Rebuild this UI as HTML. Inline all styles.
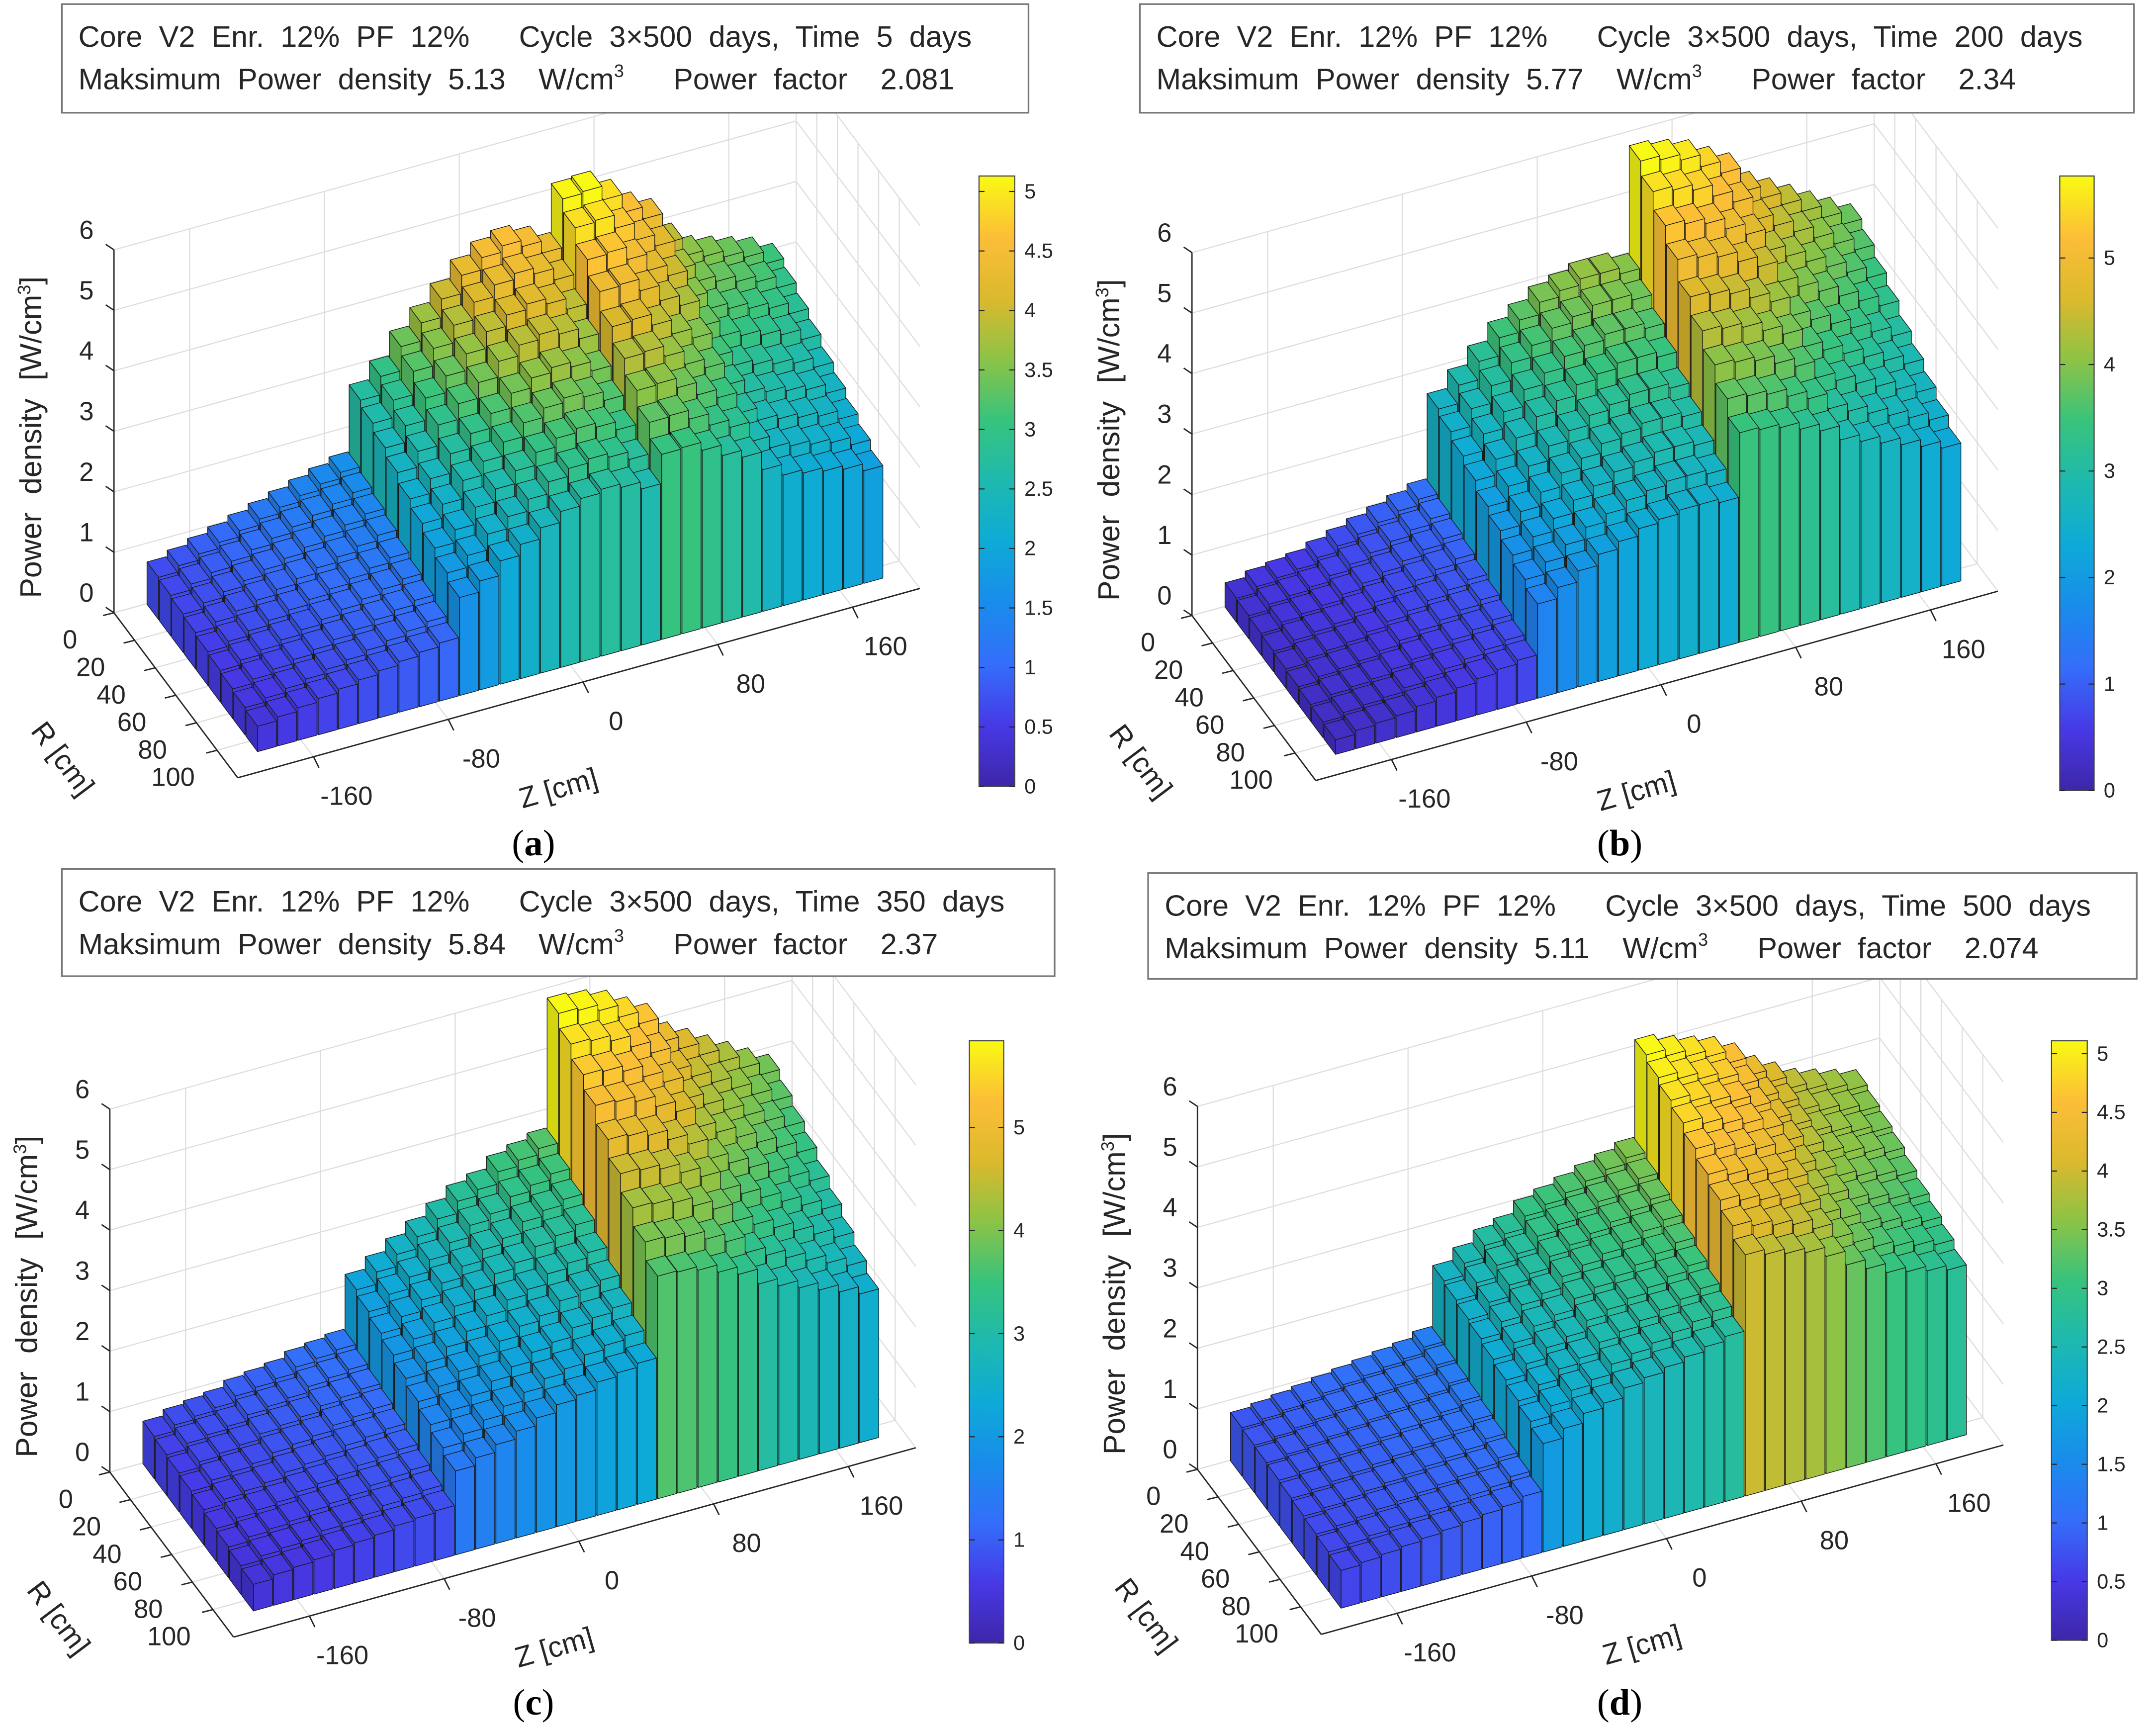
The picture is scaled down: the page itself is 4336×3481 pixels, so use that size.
<!DOCTYPE html>
<html><head><meta charset="utf-8"><style>
html,body{margin:0;padding:0;background:#fff;}
svg{display:block;}
text{font-family:"Liberation Sans",Arial,sans-serif;fill:#262626;}
.pre{white-space:pre;}
</style></head><body>
<svg id="root" xmlns="http://www.w3.org/2000/svg" width="4336" height="3481" viewBox="0 0 1568 1259" preserveAspectRatio="none">
<defs>
<linearGradient id="parula" x1="0" y1="1" x2="0" y2="0">
<stop offset="0" stop-color="rgb(62,38,168)"/><stop offset="0.1" stop-color="rgb(71,57,230)"/>
<stop offset="0.2" stop-color="rgb(52,110,250)"/><stop offset="0.3" stop-color="rgb(25,140,235)"/>
<stop offset="0.4" stop-color="rgb(14,170,215)"/><stop offset="0.5" stop-color="rgb(30,185,175)"/>
<stop offset="0.6" stop-color="rgb(55,195,125)"/><stop offset="0.7" stop-color="rgb(140,195,70)"/>
<stop offset="0.8" stop-color="rgb(220,185,45)"/><stop offset="0.9" stop-color="rgb(252,190,55)"/>
<stop offset="1" stop-color="rgb(249,250,20)"/>
</linearGradient>
</defs>
</svg>
<script>
// Shared categories
const zCenters=[-180,-168,-156,-144,-132,-120,-108,-96,-84,-72,-60,-48,-36,-24,-12,0,12,24,36,48,60,72,84,96,108,120,132,144,156,168,180];
const rCenters=[6,18,30,42,54,66,78,90,102];
const zTicks=[-160,-80,0,80,160];
const rTicks=[0,20,40,60,80,100];
const hTicks=[0,1,2,3,4,5,6];
// Panel (a)
const backA=[0.7,0.8,0.9,1.0,1.1,1.2,1.3,1.4,1.5,1.6, 2.7,3.0,3.4,3.7,4.0,4.3,4.5,4.6,4.5,4.3, 5.1,5.13,4.9,4.6,4.4, 3.9,3.6,3.5,3.4,3.3,3.1];
const radialA=[1,0.96,0.91,0.86,0.8,0.75,0.7,0.65,0.6];
const cbTicksA=[0,0.5,1,1.5,2,2.5,3,3.5,4,4.5,5];
// Panel (b)
const backB=[0.4,0.5,0.55,0.6,0.7,0.8,0.9,1.0,1.1,1.2, 2.6,2.9,3.2,3.5,3.7,3.9,4.0,4.1,4.1,4.0, 5.77,5.7,5.6,5.4,5.2, 4.8,4.6,4.4,4.2,4.0,3.8];
const radialB=[1,0.96,0.91,0.86,0.8,0.75,0.7,0.65,0.6];
const cbTicksB=[0,1,2,3,4,5];
// Panel (c)
const backC=[0.7,0.8,0.85,0.9,1.0,1.05,1.1,1.2,1.25,1.3, 2.2,2.4,2.6,2.8,3.0,3.2,3.3,3.5,3.6,3.7, 5.84,5.8,5.7,5.5,5.3, 4.9,4.7,4.5,4.3,4.1,3.9];
const radialC=[1,0.96,0.92,0.88,0.83,0.78,0.73,0.68,0.63];
const cbTicksC=[0,1,2,3,4,5];
// Panel (d)
const backD=[0.8,0.85,0.9,0.95,1.0,1.05,1.1,1.15,1.2,1.3, 2.3,2.5,2.7,2.8,3.0,3.1,3.2,3.3,3.4,3.5, 5.11,5.0,4.9,4.8,4.6, 4.3,4.1,3.9,3.8,3.7,3.6];
const radialD=[1,0.98,0.96,0.94,0.91,0.88,0.85,0.82,0.78];
const cbTicksD=[0,0.5,1,1.5,2,2.5,3,3.5,4,4.5,5];

const NS="http://www.w3.org/2000/svg";
const root=document.getElementById('root');
const stops=[[0,62,38,168],[0.1,71,57,230],[0.2,52,110,250],[0.3,25,140,235],[0.4,14,170,215],[0.5,30,185,175],[0.6,55,195,125],[0.7,140,195,70],[0.8,220,185,45],[0.9,252,190,55],[1,249,250,20]];
function parula(t,k){t=Math.max(0,Math.min(1,t));let i=0;while(i<stops.length-2&&t>stops[i+1][0])i++;
 const a=stops[i],b=stops[i+1],f=(t-a[0])/(b[0]-a[0]);
 const c=[1,2,3].map(j=>Math.round((a[j]+(b[j]-a[j])*f)*k));return `rgb(${c[0]},${c[1]},${c[2]})`;}
function el(tag,attrs,parent){const e=document.createElementNS(NS,tag);for(const k in attrs)e.setAttribute(k,attrs[k]);(parent||root).appendChild(e);return e;}
const ZMIN=-205,ZMAX=200,RMAX=120;

function panel(cfg){
 const g=el('g',{});
 
 
 const ox=334+cfg.dx, oy=376+cfg.dy;
 const P=(Z,R,H)=>[ox+1.225*Z+0.75*R, oy-0.34*Z+R-44*H];
 const pts=a=>a.map(p=>p[0].toFixed(1)+','+p[1].toFixed(1)).join(' ');
 const line=(a,b,st,w,name)=>{const l=el('line',{x1:a[0],y1:a[1],x2:b[0],y2:b[1],stroke:st,'stroke-width':w},g);
   };
 const gc='#dcdcdc';
 zTicks.forEach(z=>{line(P(z,0,0),P(z,0,6),gc,0.8,'grid-line');line(P(z,0,0),P(z,RMAX,0),gc,0.8,'grid-line');});
 hTicks.forEach(h=>{line(P(ZMIN,0,h),P(ZMAX,0,h),gc,0.8,'grid-line');line(P(ZMAX,0,h),P(ZMAX,RMAX,h),gc,0.8,'grid-line');});
 rTicks.forEach(r=>{line(P(ZMAX,r,0),P(ZMAX,r,6),gc,0.8,'grid-line');line(P(ZMIN,r,0),P(ZMAX,r,0),gc,0.8,'grid-line');});
 line(P(ZMIN,0,0),P(ZMIN,0,6),'#262626',1,'z-axis-line');
 line(P(ZMIN,0,0),P(ZMIN,RMAX,0),'#262626',1,'r-axis-line');
 line(P(ZMIN,RMAX,0),P(ZMAX,RMAX,0),'#262626',1,'zcm-axis-line');
 hTicks.forEach(h=>{const p=P(ZMIN,0,h);line(p,[p[0]-6,p[1]-4],'#262626',1,'tick');
  const t=el('text',{x:p[0]-20,y:p[1]-8,'font-size':19,'text-anchor':'middle'},g);t.textContent=h;
  });
 rTicks.forEach(r=>{const p=P(ZMIN,r,0);line(p,[p[0]-8,p[1]+2],'#262626',1,'tick');
  const t=el('text',{x:p[0]-32,y:p[1]+26,'font-size':19,'text-anchor':'middle'},g);t.textContent=r;
  });
 zTicks.forEach(z=>{const p=P(z,RMAX,0);line(p,[p[0]+4,p[1]+8],'#262626',1,'tick');
  const t=el('text',{x:p[0]+24,y:p[1]+35,'font-size':19,'text-anchor':'middle'},g);t.textContent=z;
  });
 let t=el('text',{x:0,y:0,'font-size':22,'text-anchor':'middle','word-spacing':'7px',transform:`translate(${30+cfg.dx},${318+cfg.dy}) rotate(-90)`},g);
 t.innerHTML='Power density [W/cm<tspan font-size="13" dy="-8">3</tspan><tspan dy="8">]</tspan>';
 
 t=el('text',{x:0,y:0,'font-size':21,'text-anchor':'middle',transform:`translate(${40+cfg.dx},${556+cfg.dy}) rotate(53)`},g);t.textContent='R [cm]';
 
 t=el('text',{x:0,y:0,'font-size':21,'text-anchor':'middle',transform:`translate(${408+cfg.dx},${580+cfg.dy}) rotate(-16)`},g);t.textContent='Z [cm]';
 
 const hw=5.6;
 for(let j=0;j<rCenters.length;j++){
  for(let i=zCenters.length-1;i>=0;i--){
   const v=cfg.back[i]*cfg.radial[j];
   const z0=zCenters[i]-hw,z1=zCenters[i]+hw,r0=rCenters[j]-hw,r1=rCenters[j]+hw;
   const bg=el('g',{},g);
   
   
   const c=parula(v/cfg.max,1),cd=parula(v/cfg.max,0.85);
   const sa={stroke:'#1a1a1a','stroke-width':0.5,'stroke-linejoin':'round'};
   el('polygon',Object.assign({points:pts([P(z0,r0,0),P(z0,r1,0),P(z0,r1,v),P(z0,r0,v)]),fill:cd},sa),bg);
   el('polygon',Object.assign({points:pts([P(z0,r1,0),P(z1,r1,0),P(z1,r1,v),P(z0,r1,v)]),fill:c},sa),bg);
   el('polygon',Object.assign({points:pts([P(z0,r0,v),P(z1,r0,v),P(z1,r1,v),P(z0,r1,v)]),fill:c},sa),bg);
  }
 }
 const tb=el('g',{},g);
 
 
 el('rect',{x:cfg.box[0],y:cfg.box[1],width:cfg.box[2],height:cfg.box[3],fill:'#fff',stroke:'#777','stroke-width':1.2},tb);
 t=el('text',{x:cfg.box[0]+12,y:cfg.box[1]+31,'font-size':21.5,'word-spacing':'6px','class':'pre'},tb);
 t.textContent=cfg.l1;
 
 t=el('text',{x:cfg.box[0]+12,y:cfg.box[1]+62,'font-size':21.5,'word-spacing':'6px','class':'pre'},tb);
 t.innerHTML=`Maksimum Power density ${cfg.pd}  W/cm<tspan font-size="13" dy="-9">3</tspan><tspan dy="9">   Power factor  ${cfg.pf}</tspan>`;
 
 const [cx,cy0,cw,cy1]=cfg.cb;
 const cb=el('rect',{x:cx,y:cy0,width:cw,height:cy1-cy0,fill:'url(#parula)',stroke:'#444','stroke-width':0.8},g);
 
 cfg.cbt.forEach(v=>{const y=cy1-v/cfg.max*(cy1-cy0);
  line([cx,y],[cx+4,y],'#262626',0.8,'colorbar-tick');line([cx+cw-4,y],[cx+cw,y],'#262626',0.8,'colorbar-tick');
  const tt=el('text',{x:cx+cw+7,y:y+5,'font-size':15},g);tt.textContent=v;
  });
 t=el('text',{x:cfg.cap[0],y:cfg.cap[1],'font-size':27,'text-anchor':'middle',style:'font-family:"Liberation Serif",serif;fill:#000'},g);
 t.innerHTML=`(<tspan font-weight="bold">${cfg.id}</tspan>)`;
 
}
panel({id:'a',dx:0,dy:0,back:backA,radial:radialA,max:5.13,cbt:cbTicksA,box:[45,3,703,79],
 l1:'Core V2 Enr. 12% PF 12%   Cycle 3×500 days, Time 5 days',pd:'5.13',pf:'2.081',cb:[712,128,26,572],cap:[388,622]});
panel({id:'b',dx:784,dy:2,back:backB,radial:radialB,max:5.77,cbt:cbTicksB,box:[829,3,723,79],
 l1:'Core V2 Enr. 12% PF 12%   Cycle 3×500 days, Time 200 days',pd:'5.77',pf:'2.34',cb:[1498,128,25,575],cap:[1178,622]});
panel({id:'c',dx:-3,dy:625,back:backC,radial:radialC,max:5.84,cbt:cbTicksC,box:[45,632,722,78],
 l1:'Core V2 Enr. 12% PF 12%   Cycle 3×500 days, Time 350 days',pd:'5.84',pf:'2.37',cb:[705,757,25,1195],cap:[388,1247]});
panel({id:'d',dx:788,dy:623,back:backD,radial:radialD,max:5.11,cbt:cbTicksD,box:[835,635,719,77],
 l1:'Core V2 Enr. 12% PF 12%   Cycle 3×500 days, Time 500 days',pd:'5.11',pf:'2.074',cb:[1492,757,26,1193],cap:[1178,1247]});
</script>
</body></html>
